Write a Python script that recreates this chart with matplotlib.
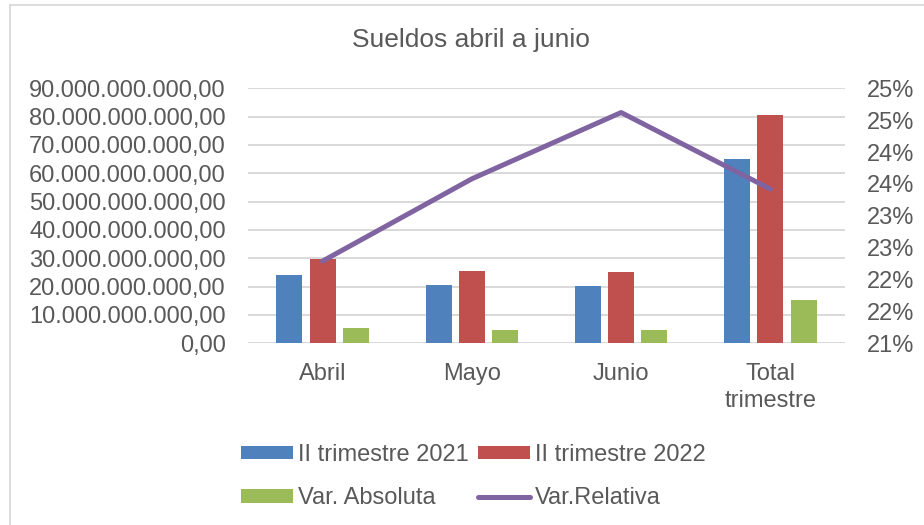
import math
import matplotlib
matplotlib.use("Agg")
import matplotlib.pyplot as plt
import numpy as np
from matplotlib.ticker import FuncFormatter, FixedLocator
from matplotlib.lines import Line2D
from matplotlib.patches import Patch

# ---- data ----
categories = ["Abril", "Mayo", "Junio", "Total\ntrimestre"]
trim_2021 = [24.2e9, 20.6e9, 20.2e9, 65.1e9]
trim_2022 = [29.7e9, 25.5e9, 25.2e9, 80.5e9]
var_abs = [5.3e9, 4.8e9, 4.8e9, 15.2e9]
var_rel = [22.29, 23.58, 24.62, 23.42]   # percent
series_names = ["II trimestre 2021", "II trimestre 2022", "Var. Absoluta", "Var.Relativa"]
title = "Sueldos abril a junio"

# ---- style ----
C_BLUE, C_RED, C_GREEN, C_PURPLE = "#4F81BD", "#C0504D", "#9BBB59", "#8064A2"
TXT = "#595959"
GRID = "#D9D9D9"
plt.rcParams["font.family"] = ["Liberation Sans", "DejaVu Sans"]

W, H = 924, 525
fig = plt.figure(figsize=(W / 100, H / 100), dpi=100)
fig.patch.set_facecolor("white")

L, R, T, B = 248, 845, 88.3, 343.3
ax = fig.add_axes([L / W, 1 - B / H, (R - L) / W, (B - T) / H])
x = np.arange(len(categories))
bw = 0.174
off = 0.2225
ax.bar(x - off, trim_2021, bw, color=C_BLUE, zorder=2)
ax.bar(x, trim_2022, bw, color=C_RED, zorder=2)
ax.bar(x + off, var_abs, bw, color=C_GREEN, zorder=2)
ax.set_xlim(-0.5, len(categories) - 0.5)
ax.set_ylim(0, 90e9)
ax.yaxis.set_major_locator(FixedLocator(np.arange(0, 90e9 + 1, 10e9)))


def es_fmt(v, pos=None):
    s = f"{v:,.2f}"
    return s.replace(",", "X").replace(".", ",").replace("X", ".")


ax.yaxis.set_major_formatter(FuncFormatter(es_fmt))
ax.set_axisbelow(True)
ax.grid(axis="y", color=GRID, linewidth=1.4, zorder=0)
for s in ax.spines.values():
    s.set_visible(False)
ax.tick_params(axis="both", length=0, labelsize=17, labelcolor=TXT)
ax.tick_params(axis="y", pad=16)
ax.tick_params(axis="x", pad=14.5)
ax.set_xticks(x)
ax.set_xticklabels(categories, linespacing=1.25)

ax2 = ax.twinx()
ax2.plot(x, var_rel, color=C_PURPLE, linewidth=3.6, solid_capstyle="round",
         solid_joinstyle="round", zorder=3)
ax2.set_ylim(21, 25)
ax2.yaxis.set_major_locator(FixedLocator(np.arange(21, 25.01, 0.5)))
ax2.yaxis.set_major_formatter(FuncFormatter(lambda v, p: f"{int(math.floor(v + 0.5 + 1e-9))}%"))
for s in ax2.spines.values():
    s.set_visible(False)
ax2.tick_params(axis="y", length=0, labelsize=17, labelcolor=TXT, pad=16)

fig.text(471 / W, 1 - 40 / H, title, ha="center", va="center", fontsize=19, color=TXT)

# chart-area border (left and top visible)
fig.add_artist(Line2D([9.5 / W, 9.5 / W], [0, 1 - 4.5 / H], transform=fig.transFigure,
                      color=GRID, linewidth=1.3))
fig.add_artist(Line2D([9.5 / W, 1], [1 - 4.5 / H, 1 - 4.5 / H], transform=fig.transFigure,
                      color=GRID, linewidth=1.3))

handles = [Patch(facecolor=C_BLUE), Patch(facecolor=C_GREEN),
           Patch(facecolor=C_RED),
           Line2D([0], [0], color=C_PURPLE, linewidth=3.6, solid_capstyle="round")]
labels = [series_names[0], series_names[2], series_names[1], series_names[3]]
leg = fig.legend(handles, labels, ncol=2, loc="upper left",
                 bbox_to_anchor=(241 / W, 1 - 444 / H), frameon=False,
                 fontsize=17, labelcolor=TXT, borderpad=0, borderaxespad=0,
                 handlelength=2.2, handleheight=0.5, handletextpad=0.22,
                 columnspacing=0.38, labelspacing=0.9)

fig.savefig("out.png", dpi=100, facecolor="white")
